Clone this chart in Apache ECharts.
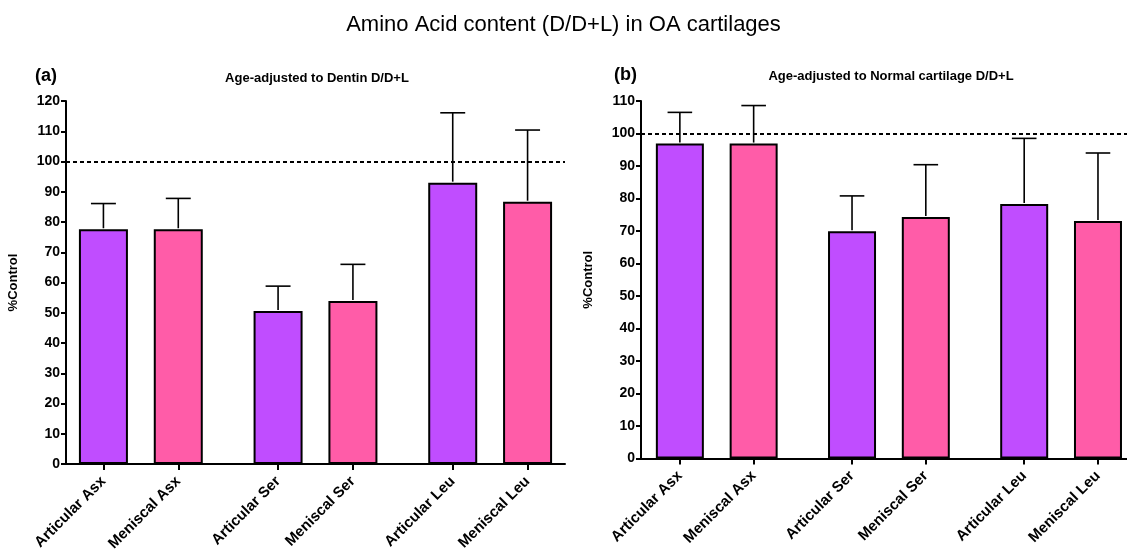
<!DOCTYPE html>
<html>
<head>
<meta charset="utf-8">
<script src="https://cdn.jsdelivr.net/npm/echarts@6/dist/echarts.min.js"></script>
<style>
  html, body { margin: 0; padding: 0; background: #fff; }
  #chart { width: 1127px; height: 554px; }
</style>
</head>
<body>
<div id="chart"></div>
<script>
// ---- data ----
const groups = ['Asx', 'Ser', 'Leu'];
const members = ['Articular', 'Meniscal'];

// Panel (a): Age-adjusted to Dentin D/D+L
const dentinArticular = [77.6, 50.6, 93.0];
const dentinArticularErr = [8.5, 8.2, 23.1];
const dentinMeniscal = [77.6, 53.9, 86.7];
const dentinMeniscalErr = [10.2, 12.1, 23.7];

// Panel (b): Age-adjusted to Normal cartilage D/D+L
const normalArticular = [96.9, 69.9, 78.3];
const normalArticularErr = [9.6, 10.9, 20.2];
const normalMeniscal = [96.9, 74.3, 73.1];
const normalMeniscalErr = [11.7, 16.1, 20.9];

const yTicksA = { min: 0, max: 120, interval: 10 };
const yTicksB = { min: 0, max: 110, interval: 10 };
const controlLevel = 100;

// ---- layout helpers (positions on the x value axis) ----
const GROUP_STRIDE = 7, PAIR_STEP = 3;
function pos(g, m) { return g * GROUP_STRIDE + m * PAIR_STEP; }
const tickPositions = [];
const tickLabels = {};
groups.forEach((g, gi) => members.forEach((m, mi) => {
  const p = pos(gi, mi);
  tickPositions.push(p);
  tickLabels[p] = m + ' ' + g;
}));

const FONT = "'Liberation Sans', Arial, Helvetica, sans-serif";
const PURPLE = '#C04DFF';
const PINK = '#FF5CA8';

function xAxisDef(gridIndex, xmin, xmax) {
  return {
    type: 'value', gridIndex, min: xmin, max: xmax,
    axisLine: { show: true, onZero: false, lineStyle: { color: '#000', width: 2 } },
    axisTick: { show: true, customValues: tickPositions, length: 6, lineStyle: { color: '#000', width: 2 } },
    axisLabel: {
      customValues: tickPositions, rotate: 45, margin: 15,
      fontFamily: FONT, fontWeight: 'bold', fontSize: 15, color: '#000',
      formatter: v => tickLabels[v] || ''
    },
    splitLine: { show: false }
  };
}
function yAxisDef(gridIndex, t) {
  return {
    type: 'value', gridIndex, min: t.min, max: t.max, interval: t.interval,
    name: '%Control', nameLocation: 'middle', nameGap: 46,
    nameTextStyle: { fontFamily: FONT, fontWeight: 'bold', fontSize: 13, color: '#000' },
    axisLine: { show: true, onZero: false, lineStyle: { color: '#000', width: 2 } },
    axisTick: { show: true, length: 5, lineStyle: { color: '#000', width: 2 } },
    axisLabel: { fontFamily: FONT, fontWeight: 'bold', fontSize: 14, color: '#000', margin: 6 },
    splitLine: { show: false }
  };
}

function barSeries(name, color, vals, mi, axisIdx, bw, withLine) {
  const s = {
    name, type: 'bar', xAxisIndex: axisIdx, yAxisIndex: axisIdx,
    barWidth: bw, barGap: '-100%',
    data: vals.map((v, gi) => [pos(gi, mi), v]),
    itemStyle: { color, borderColor: '#000', borderWidth: 2 },
    z: 2
  };
  if (withLine) {
    s.markLine = {
      silent: true, symbol: 'none', animation: false,
      label: { show: false },
      lineStyle: { color: '#000', width: 2, type: [4, 3] },
      data: [{ yAxis: controlLevel }]
    };
  }
  return s;
}

function errSeries(vals, errs, mi, axisIdx) {
  return {
    type: 'custom', xAxisIndex: axisIdx, yAxisIndex: axisIdx, z: 3,
    data: vals.map((v, gi) => [pos(gi, mi), v, errs[gi]]),
    encode: { x: 0, y: 1 },
    renderItem: function (params, api) {
      const x = api.value(0), m = api.value(1), e = api.value(2);
      const p0 = api.coord([x, m]);
      const p1 = api.coord([x, m + e]);
      const hw = api.size([0.5, 0])[0];
      const st = { stroke: '#000', lineWidth: 1.6 };
      return {
        type: 'group',
        children: [
          { type: 'line', shape: { x1: p0[0], y1: p0[1] - 1, x2: p1[0], y2: p1[1] }, style: st },
          { type: 'line', shape: { x1: p1[0] - hw, y1: p1[1], x2: p1[0] + hw, y2: p1[1] }, style: st }
        ]
      };
    }
  };
}

const chart = echarts.init(document.getElementById('chart'), null, { renderer: 'canvas' });
chart.setOption({
  animation: false,
  backgroundColor: '#fff',
  title: [
    { text: 'Amino Acid content (D/D+L) in OA cartilages', left: 'center', top: 9,
      textStyle: { fontFamily: FONT, fontWeight: 'normal', fontSize: 22, color: '#000' } },
    { text: '(a)', left: 30, top: 62,
      textStyle: { fontFamily: FONT, fontWeight: 'bold', fontSize: 18, color: '#000' } },
    { text: '(b)', left: 609, top: 61,
      textStyle: { fontFamily: FONT, fontWeight: 'bold', fontSize: 18, color: '#000' } },
    { text: 'Age-adjusted to Dentin D/D+L', left: 312, top: 67, textAlign: 'center',
      textStyle: { fontFamily: FONT, fontWeight: 'bold', fontSize: 13, color: '#000' } },
    { text: 'Age-adjusted to Normal cartilage D/D+L', left: 886, top: 65, textAlign: 'center',
      textStyle: { fontFamily: FONT, fontWeight: 'bold', fontSize: 13, color: '#000' } }
  ],
  grid: [
    { left: 66, top: 101, width: 499, height: 363 },
    { left: 641, top: 101, width: 486, height: 357.5 }
  ],
  xAxis: [xAxisDef(0, -1.5, 18.5), xAxisDef(1, -1.58, 18.18)],
  yAxis: [yAxisDef(0, yTicksA), yAxisDef(1, yTicksB)],
  series: [
    barSeries('Articular', PURPLE, dentinArticular, 0, 0, 49, true),
    barSeries('Meniscal', PINK, dentinMeniscal, 1, 0, 49, false),
    errSeries(dentinArticular, dentinArticularErr, 0, 0),
    errSeries(dentinMeniscal, dentinMeniscalErr, 1, 0),
    barSeries('Articular', PURPLE, normalArticular, 0, 1, 48, true),
    barSeries('Meniscal', PINK, normalMeniscal, 1, 1, 48, false),
    errSeries(normalArticular, normalArticularErr, 0, 1),
    errSeries(normalMeniscal, normalMeniscalErr, 1, 1)
  ]
});
</script>
</body>
</html>
